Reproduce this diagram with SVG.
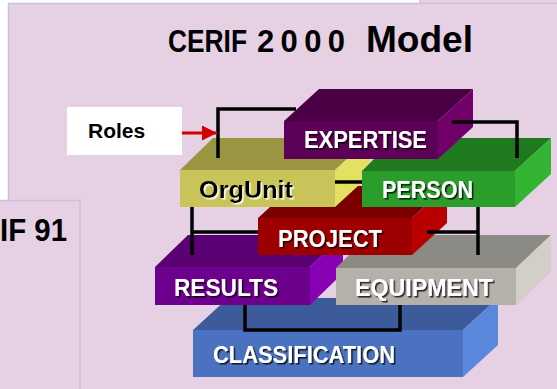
<svg xmlns="http://www.w3.org/2000/svg" width="557" height="389" viewBox="0 0 557 389">
<defs>
<style>
.panel{fill:#e6d0e4;stroke:#cbc0df;stroke-width:1.5}
.lbl{font-family:"Liberation Sans",Arial,sans-serif;font-weight:bold;font-size:24px;fill:#ffffff}
.dark{fill:#000000}
.conn{fill:none;stroke:#000000;stroke-width:3.5;stroke-linecap:butt;stroke-linejoin:miter}
.title{font-family:"Liberation Sans",Arial,sans-serif;font-weight:bold;fill:#000000}
</style>
<filter id="sh" x="-10%" y="-20%" width="130%" height="160%">
<feDropShadow dx="1.6" dy="1.6" stdDeviation="0.6" flood-color="#000000" flood-opacity="0.75"/>
</filter>
<filter id="shl" x="-10%" y="-20%" width="130%" height="160%">
<feDropShadow dx="1.6" dy="1.6" stdDeviation="0.6" flood-color="#fffff0" flood-opacity="0.9"/>
</filter>
<marker id="arr" viewBox="0 0 10 10" refX="10" refY="5" markerWidth="5" markerHeight="5" markerUnits="strokeWidth" orient="auto">
<path d="M0,0 L10,5 L0,10 Z" fill="#d40000"/>
</marker>
</defs>
<rect width="557" height="389" fill="#ffffff"/>
<g id="background">
<rect class="panel" x="420" y="-10" width="150" height="13.5"/>
<rect class="panel" x="8.5" y="3.5" width="560" height="400"/>
<rect class="panel" x="-5" y="200.5" width="85" height="200"/>
<text class="title" x="0" y="241" font-size="32" textLength="67" lengthAdjust="spacingAndGlyphs">IF 91</text>
</g>
<g id="title">
<text class="title" font-size="31"><tspan x="168" y="52" textLength="79" lengthAdjust="spacingAndGlyphs">CERIF</tspan> <tspan x="257" y="52" textLength="88" lengthAdjust="spacing">2000</tspan> <tspan x="366" y="52" font-size="36" textLength="107" lengthAdjust="spacingAndGlyphs">Model</tspan></text>
</g>
<g id="classification">
<polygon points="193,330 228,298 498,298 463,330" fill="#3d5b9a"/>
<polygon points="463,330 498,298 498,345 463,377" fill="#5b87dc"/>
<rect x="193" y="330" width="270" height="47" fill="#4b72c0"/>
<text class="lbl" x="213" y="363" textLength="182" lengthAdjust="spacingAndGlyphs" filter="url(#sh)">CLASSIFICATION</text>
</g>
<g id="results">
<polygon points="155,267 188,235 343,235 310,267" fill="#5a0072"/>
<polygon points="310,267 343,235 343,273 310,305" fill="#8a00b4"/>
<rect x="155" y="267" width="155" height="38" fill="#6e008e"/>
<text class="lbl" x="174" y="296" textLength="104" lengthAdjust="spacingAndGlyphs" filter="url(#sh)">RESULTS</text>
</g>
<g id="equipment">
<polygon points="336,268 369,235 551,235 516,268" fill="#8c8a84"/>
<polygon points="516,268 551,235 551,272 516,305" fill="#d2cec8"/>
<rect x="336" y="268" width="180" height="37" fill="#b4b0aa"/>
<text class="lbl" x="355" y="296" textLength="138" lengthAdjust="spacingAndGlyphs" filter="url(#sh)">EQUIPMENT</text>
</g>
<g id="project">
<polygon points="258,218 293,186 447,186 412,218" fill="#7a0000"/>
<polygon points="412,218 447,186 447,223 412,255" fill="#b80000"/>
<rect x="258" y="218" width="154" height="37" fill="#9c0000"/>
<text class="lbl" x="278" y="247" textLength="104" lengthAdjust="spacingAndGlyphs" filter="url(#sh)">PROJECT</text>
</g>
<g id="orgunit">
<polygon points="180,170 213,138 370,138 335,170" fill="#9a9540"/>
<polygon points="335,170 370,138 370,175 335,207" fill="#e3e062"/>
<rect x="180" y="170" width="155" height="37" fill="#c8c45a"/>
<text class="lbl dark" x="199" y="198" textLength="94" lengthAdjust="spacingAndGlyphs" filter="url(#shl)">OrgUnit</text>
</g>
<g id="person">
<polygon points="362,171 395,138 551,138 515,171" fill="#1f7a1f"/>
<polygon points="515,171 551,138 551,174 515,207" fill="#33b533"/>
<rect x="362" y="171" width="153" height="36" fill="#2a9d2a"/>
<text class="lbl" x="382" y="198" textLength="91" lengthAdjust="spacingAndGlyphs" filter="url(#sh)">PERSON</text>
</g>
<g id="expertise">
<polygon points="284,121 319,89 473,89 438,121" fill="#4b0045"/>
<polygon points="438,121 473,89 473,127 438,159" fill="#72006b"/>
<rect x="284" y="121" width="154" height="38" fill="#5d0057"/>
<text class="lbl" x="304" y="148" textLength="123" lengthAdjust="spacingAndGlyphs" filter="url(#sh)">EXPERTISE</text>
</g>
<g id="roles">
<rect x="67" y="107" width="115" height="48" fill="#ffffff"/>
<text class="title" x="88" y="138" font-size="21">Roles</text>
</g>
<g id="connectors">
<path class="conn" d="M218,158 V109 H296"/>
<path class="conn" d="M452,122 H517 V158"/>
<path class="conn" d="M335,182 H362"/>
<path class="conn" d="M192,207 V255 M192,232 H258"/>
<path class="conn" d="M478,207 V255 M427,232 H478"/>
<path class="conn" d="M245,305 V330 H400 V305"/>
<path d="M182,133 H217" fill="none" stroke="#d40000" stroke-width="3" marker-end="url(#arr)"/>
</g>
</svg>
